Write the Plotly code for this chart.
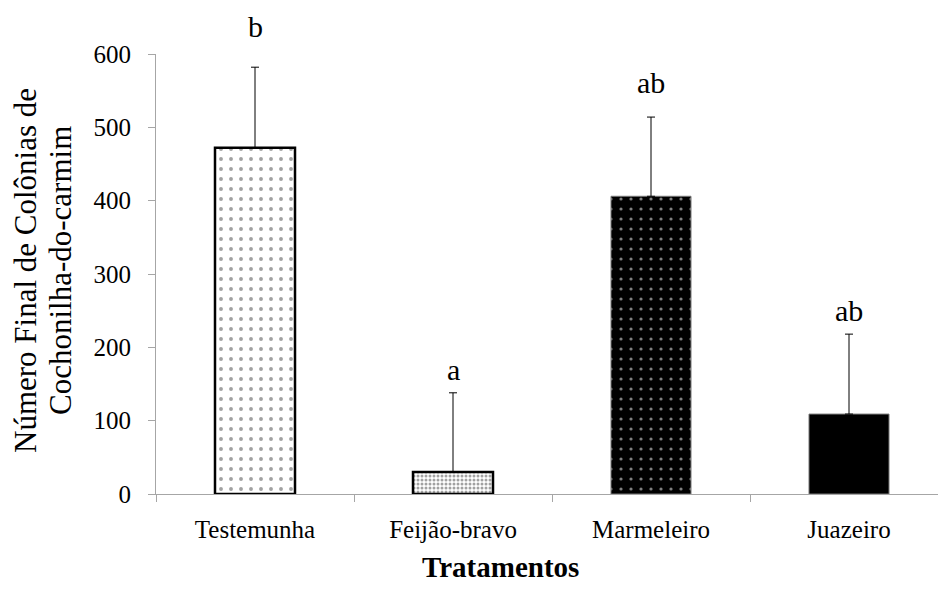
import plotly.graph_objects as go

categories = ["Testemunha", "Feijão-bravo", "Marmeleiro", "Juazeiro"]
values = [472, 30, 406, 109]
errors = [110, 108, 108, 109]
letters = ["b", "a", "ab", "ab"]

FONT = "Liberation Serif, Times New Roman, serif"
W, H = 938, 605
L, R, T, B = 156, 0, 54, 111
xpos = list(range(len(categories)))
px_per_cat = 198.0
x_end = -0.5 + (W - L - R) / px_per_cat
PW = W - L - R

fig = go.Figure()
fig.add_trace(go.Bar(
    x=xpos, y=values, width=0.404,
    marker=dict(
        color=["white", "white", "black", "black"],
        line=dict(color=["black", "black", "#777777", "#777777"], width=[2.5, 2.5, 1, 1]),
        pattern=dict(
            shape=[".", ".", ".", ""],
            fgcolor=["black", "#222222", "white", "black"],
            bgcolor=["white", "#dddddd", "black", "black"],
            size=[10, 4, 10, 10],
            solidity=[0.12, 0.45, 0.08, 0.1],
        ),
    ),
    error_y=dict(type="data", array=errors, arrayminus=[0]*4, symmetric=False,
                 color="black", thickness=1, width=4),
    showlegend=False,
))

# baseline gap (px) between the error bar top and each letter
gaps = [30, 13, 24, 13]
for xi, v, e, t, g in zip(xpos, values, errors, letters, gaps):
    fig.add_annotation(x=xi, y=v + e, text=t, showarrow=False, yanchor="bottom",
                       yshift=g - 8, font=dict(family=FONT, size=30, color="black"))

fig.add_annotation(xref="paper", yref="paper", x=(500 - L) / PW, y=0,
                   yshift=-(567 - (H - B)), yanchor="middle", showarrow=False,
                   text="<b>Tratamentos</b>", font=dict(family=FONT, size=29, color="black"))

for txt, xc in [("Número Final de Colônias de", 25), ("Cochonilha-do-carmim", 60)]:
    fig.add_annotation(xref="paper", yref="paper", x=(xc - L) / PW, y=(H - B - 271) / (H - T - B),
                       xanchor="center", yanchor="middle", textangle=-90, showarrow=False,
                       text=txt, font=dict(family=FONT, size=31, color="black"))

fig.update_layout(
    width=W, height=H,
    margin=dict(l=L, r=R, t=T, b=B, pad=0),
    plot_bgcolor="white", paper_bgcolor="white",
    font=dict(family=FONT, color="black"),
    xaxis=dict(
        range=[-0.5, x_end], tickmode="array", tickvals=xpos, ticktext=categories,
        ticks="", showgrid=False, zeroline=False,
        showline=True, linecolor="#a6a6a6", linewidth=1,
        tickfont=dict(family=FONT, size=25, color="black"),
        ticklabelstandoff=13,
        minor=dict(ticks="outside", tick0=-0.5, dtick=1, ticklen=7,
                   tickcolor="#a6a6a6", tickwidth=1, showgrid=False),
    ),
    yaxis=dict(
        range=[0, 600], tickvals=[0, 100, 200, 300, 400, 500, 600],
        ticks="outside", ticklen=7, tickcolor="#a6a6a6", tickwidth=1,
        showgrid=False, zeroline=False,
        showline=True, linecolor="#a6a6a6", linewidth=1,
        tickfont=dict(family=FONT, size=25, color="black"),
        ticklabelstandoff=12,
    ),
)

fig.write_html("out.html")
